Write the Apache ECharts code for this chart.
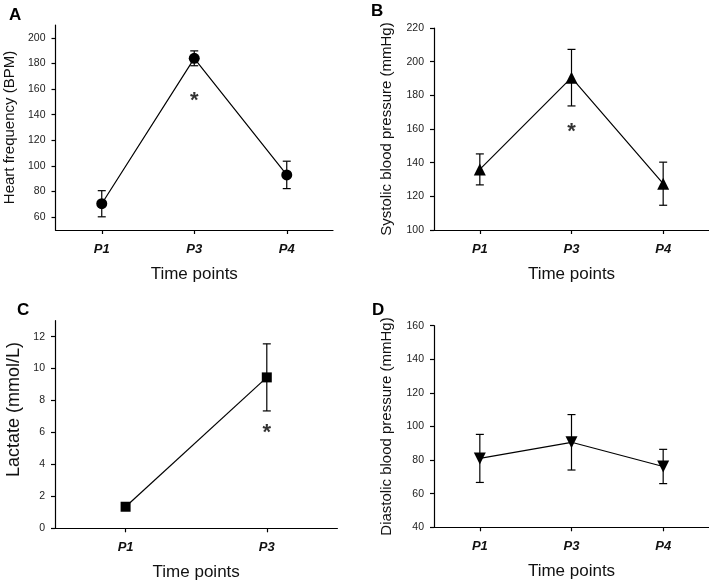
<!DOCTYPE html>
<html><head><meta charset="utf-8">
<script src="https://cdn.jsdelivr.net/npm/echarts@6/dist/echarts.min.js"></script>
<style>html,body{margin:0;padding:0;background:#fff}#c{width:709px;height:583px}</style>
</head><body><div id="c"></div>
<script>
// ---- data ----
const timePoints3 = ['P1', 'P3', 'P4'];
const timePoints2 = ['P1', 'P3'];
const hrMean = [70.5, 184, 93];
const hrErr = [10.2, 5.8, 10.7];
const sbpMean = [136, 190.5, 127.5];
const sbpErr = [9.2, 16.8, 12.8];
const lacMean = [1.35, 9.45];
const lacErr = [0.2, 2.1];
const dbpMean = [81, 90.6, 76.2];
const dbpErr = [14.3, 16.5, 10.2];
const hrTicks = [60, 80, 100, 120, 140, 160, 180, 200];
const sbpTicks = [100, 120, 140, 160, 180, 200, 220];
const lacTicks = [0, 2, 4, 6, 8, 10, 12];
const dbpTicks = [40, 60, 80, 100, 120, 140, 160];
// significance markers (category, value)
const hrStar = [['P3', 151]];
const sbpStar = [['P3', 158.5]];
const lacStar = [['P3', 5.95]];

const FONT = '"Liberation Sans", Arial, sans-serif';
const chart = echarts.init(document.getElementById('c'));

const grids = [
  {left: 55.5, top: 25, width: 277.5, height: 205},
  {left: 434, top: 28, width: 275, height: 202},
  {left: 55, top: 320.7, width: 282.4, height: 207.6},
  {left: 434, top: 325.7, width: 275, height: 201.6}
];

function xAxis(idx, cats) {
  return {
    type: 'category', gridIndex: idx, data: cats, boundaryGap: true,
    axisLine: {show: true, lineStyle: {color: '#000', width: 1.2}},
    axisTick: {show: true, alignWithLabel: true, length: 4, lineStyle: {color: '#000', width: 1.2}},
    axisLabel: {margin: 13, fontFamily: FONT, fontSize: 13, fontWeight: 'bold', fontStyle: 'italic', color: '#111'},
    name: 'Time points', nameLocation: 'middle', nameGap: 36,
    nameTextStyle: {fontFamily: FONT, fontSize: 17, color: '#111'}
  };
}
function yAxis(idx, min, max, ticks, name, gap, fs, pad) {
  return {
    type: 'value', gridIndex: idx, min: min, max: max,
    splitLine: {show: false},
    axisLine: {show: true, lineStyle: {color: '#000', width: 1.2}},
    axisTick: {show: true, length: 4, customValues: ticks, lineStyle: {color: '#000', width: 1.2}},
    axisLabel: {customValues: ticks, margin: 10, fontFamily: FONT, fontSize: 10.5, color: '#222'},
    name: name, nameLocation: 'middle', nameGap: gap,
    nameTextStyle: {fontFamily: FONT, fontSize: fs, color: '#111', padding: pad || 0}
  };
}

function errSeries(idx, mean, err) {
  return {
    type: 'custom', xAxisIndex: idx, yAxisIndex: idx, z: 2,
    data: mean.map((m, i) => [i, m - err[i], m + err[i]]),
    encode: {x: 0, y: [1, 2]},
    renderItem: function (params, api) {
      const x = api.value(0);
      const top = api.coord([x, api.value(2)]);
      const bot = api.coord([x, api.value(1)]);
      const hw = 4;
      const st = {stroke: '#000', lineWidth: 1.2};
      return {type: 'group', children: [
        {type: 'line', shape: {x1: top[0], y1: top[1], x2: bot[0], y2: bot[1]}, style: st},
        {type: 'line', shape: {x1: top[0] - hw, y1: top[1], x2: top[0] + hw, y2: top[1]}, style: st},
        {type: 'line', shape: {x1: bot[0] - hw, y1: bot[1], x2: bot[0] + hw, y2: bot[1]}, style: st}
      ]};
    }
  };
}
function lineSeries(idx, mean, symbol, size, rot) {
  return {
    type: 'line', xAxisIndex: idx, yAxisIndex: idx, z: 3, data: mean,
    symbol: symbol, symbolSize: size, symbolRotate: rot || 0, showAllSymbol: true,
    itemStyle: {color: '#000'}, lineStyle: {color: '#000', width: 1.2}
  };
}
function starSeries(idx, pts) {
  return {
    type: 'scatter', xAxisIndex: idx, yAxisIndex: idx, z: 4, data: pts,
    symbol: 'circle', symbolSize: 0,
    label: {show: true, position: 'inside', formatter: '*', fontFamily: FONT, fontSize: 22, fontWeight: 'bold', color: '#000'}
  };
}

const letterStyle = {fontFamily: FONT, fontSize: 17, fontWeight: 'bold', color: '#000'};
chart.setOption({
  animation: false,
  title: [
    {text: 'A', left: 9, top: 7, textStyle: letterStyle, padding: 0},
    {text: 'B', left: 371, top: 3, textStyle: letterStyle, padding: 0},
    {text: 'C', left: 17, top: 302, textStyle: letterStyle, padding: 0},
    {text: 'D', left: 372, top: 302, textStyle: letterStyle, padding: 0}
  ],
  grid: grids,
  xAxis: [xAxis(0, timePoints3), xAxis(1, timePoints3), xAxis(2, timePoints2), xAxis(3, timePoints3)],
  yAxis: [
    yAxis(0, 50, 210, hrTicks, 'Heart frequency (BPM)', 38, 15),
    yAxis(1, 100, 220, sbpTicks, 'Systolic blood pressure (mmHg)', 40, 15),
    yAxis(2, 0, 13, lacTicks, 'Lactate (mmol/L)', 32, 18, [0, 0, 0, 30]),
    yAxis(3, 40, 160, dbpTicks, 'Diastolic blood pressure (mmHg)', 40, 15)
  ],
  series: [
    errSeries(0, hrMean, hrErr), lineSeries(0, hrMean, 'circle', 11), starSeries(0, hrStar),
    errSeries(1, sbpMean, sbpErr), lineSeries(1, sbpMean, 'triangle', 12), starSeries(1, sbpStar),
    errSeries(2, lacMean, lacErr), lineSeries(2, lacMean, 'rect', 10), starSeries(2, lacStar),
    errSeries(3, dbpMean, dbpErr), lineSeries(3, dbpMean, 'triangle', 12, 180)
  ]
});
</script>
</body></html>
